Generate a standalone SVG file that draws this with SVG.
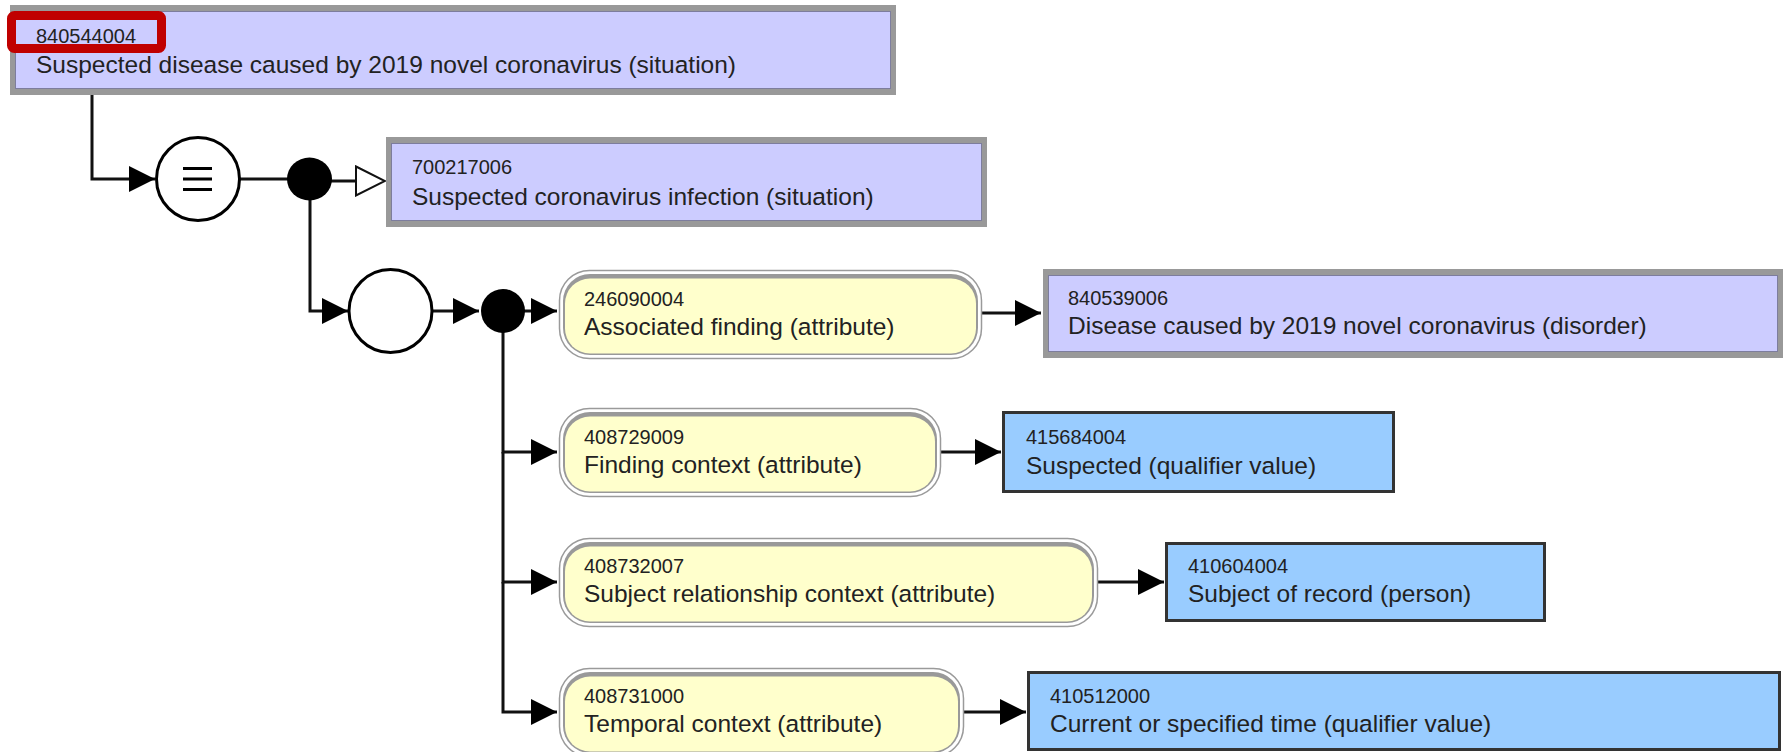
<svg xmlns="http://www.w3.org/2000/svg" width="1783" height="752" viewBox="0 0 1783 752">
<style>
text{font-family:"Liberation Sans",Arial,sans-serif;fill:#222}
.id{font-size:20px}
.lb{font-size:24.5px}
.lvo{fill:#999}
.lvi{fill:#ccccff;stroke:#7d7d9d;stroke-width:1}
.yo{fill:#fff;stroke:#9a9a9a;stroke-width:1.5}
.ym{fill:#999}
.yi{fill:#ffffcc}
.bl{fill:#99ccff;stroke:#333;stroke-width:3}
.con{fill:none;stroke:#111;stroke-width:3}
.hl{fill:none;stroke:#c00000;stroke-width:9}
</style>
<defs>
<marker id="arr" viewBox="0 0 26 26" refX="26" refY="13" markerWidth="26" markerHeight="26" markerUnits="userSpaceOnUse" orient="auto">
<path d="M0,0 L26,13 L0,26 z" fill="#000"/>
</marker>
<marker id="harr" viewBox="0 0 32 32" refX="1" refY="16" markerWidth="32" markerHeight="32" markerUnits="userSpaceOnUse" orient="auto">
<path d="M1,1.5 L30,16 L1,30.5 z" fill="#fff" stroke="#111" stroke-width="2"/>
</marker>
</defs>

<g id="connectors">
<path class="con" d="M92,95 V179 H155" marker-end="url(#arr)"/>
<path class="con" d="M240,179 H290"/>
<path class="con" d="M330,181 H356" marker-end="url(#harr)"/>
<path class="con" d="M310,198 V311 H348" marker-end="url(#arr)"/>
<path class="con" d="M432,311 H479" marker-end="url(#arr)"/>
<path class="con" d="M524,311 H557" marker-end="url(#arr)"/>
<path class="con" d="M503,330 V452 H557" marker-end="url(#arr)"/>
<path class="con" d="M503,452 V582 H557" marker-end="url(#arr)"/>
<path class="con" d="M503,582 V712 H557" marker-end="url(#arr)"/>
<path class="con" d="M982,313 H1041" marker-end="url(#arr)"/>
<path class="con" d="M941,452 H1001" marker-end="url(#arr)"/>
<path class="con" d="M1098,582 H1164" marker-end="url(#arr)"/>
<path class="con" d="M964,712 H1026" marker-end="url(#arr)"/>
</g>

<g id="n840544004">
<rect class="lvo" x="10" y="5" width="886" height="90"/>
<rect class="lvi" x="15.5" y="11.5" width="875" height="77"/>
<rect class="hl" x="11.5" y="15.5" width="150" height="33" rx="3"/>
<text class="id" x="36" y="43">840544004</text>
<text class="lb" x="36" y="73">Suspected disease caused by 2019 novel coronavirus (situation)</text>
</g>

<g id="equiv">
<circle cx="198" cy="179" r="41.5" fill="#fff" stroke="#000" stroke-width="3"/>
<path d="M183,168.5 H212 M183,179 H212 M183,189.5 H212" stroke="#000" stroke-width="3"/>
</g>

<g id="conj1">
<ellipse cx="309.5" cy="179" rx="22.5" ry="21.5" fill="#000"/>
</g>

<g id="n700217006">
<rect class="lvo" x="386" y="137" width="601" height="90"/>
<rect class="lvi" x="391.5" y="143.5" width="590" height="77"/>
<text class="id" x="412" y="174">700217006</text>
<text class="lb" x="412" y="205">Suspected coronavirus infection (situation)</text>
</g>

<g id="group">
<circle cx="390.5" cy="311" r="41.5" fill="#fff" stroke="#000" stroke-width="3"/>
</g>

<g id="conj2">
<circle cx="503" cy="311" r="22" fill="#000"/>
</g>

<g id="n246090004">
<rect class="yo" x="559.5" y="270.5" width="422" height="88" rx="30"/>
<rect class="ym" x="563" y="274" width="415" height="81" rx="27"/>
<rect class="yi" x="565" y="278.5" width="411" height="75" rx="25"/>
<text class="id" x="584" y="306">246090004</text>
<text class="lb" x="584" y="335">Associated finding (attribute)</text>
</g>

<g id="n840539006">
<rect class="lvo" x="1043" y="269" width="740" height="89"/>
<rect class="lvi" x="1048.5" y="275.5" width="729" height="76"/>
<text class="id" x="1068" y="305">840539006</text>
<text class="lb" x="1068" y="334">Disease caused by 2019 novel coronavirus (disorder)</text>
</g>

<g id="n408729009">
<rect class="yo" x="559.5" y="408.5" width="381" height="88" rx="30"/>
<rect class="ym" x="563" y="412" width="374" height="81" rx="27"/>
<rect class="yi" x="565" y="416.5" width="370" height="75" rx="25"/>
<text class="id" x="584" y="444">408729009</text>
<text class="lb" x="584" y="473">Finding context (attribute)</text>
</g>

<g id="n415684004">
<rect class="bl" x="1003.5" y="412.5" width="390" height="79"/>
<text class="id" x="1026" y="444">415684004</text>
<text class="lb" x="1026" y="474">Suspected (qualifier value)</text>
</g>

<g id="n408732007">
<rect class="yo" x="559.5" y="538.5" width="538" height="88" rx="30"/>
<rect class="ym" x="563" y="542" width="531" height="81" rx="27"/>
<rect class="yi" x="565" y="546.5" width="527" height="75" rx="25"/>
<text class="id" x="584" y="573">408732007</text>
<text class="lb" x="584" y="602">Subject relationship context (attribute)</text>
</g>

<g id="n410604004">
<rect class="bl" x="1166.5" y="543.5" width="378" height="77"/>
<text class="id" x="1188" y="573">410604004</text>
<text class="lb" x="1188" y="602">Subject of record (person)</text>
</g>

<g id="n408731000">
<rect class="yo" x="559.5" y="668.5" width="404" height="88" rx="30"/>
<rect class="ym" x="563" y="672" width="397" height="81" rx="27"/>
<rect class="yi" x="565" y="676.5" width="393" height="75" rx="25"/>
<text class="id" x="584" y="703">408731000</text>
<text class="lb" x="584" y="732">Temporal context (attribute)</text>
</g>

<g id="n410512000">
<rect class="bl" x="1028.5" y="672.5" width="751" height="77"/>
<text class="id" x="1050" y="703">410512000</text>
<text class="lb" x="1050" y="732">Current or specified time (qualifier value)</text>
</g>
</svg>
